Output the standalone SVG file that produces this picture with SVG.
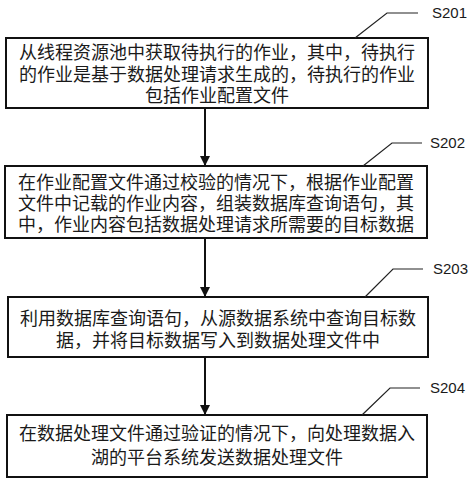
<svg xmlns="http://www.w3.org/2000/svg" width="474" height="483" viewBox="0 0 474 483">
<defs>
<style>
.box{fill:#fff;stroke:#111;stroke-width:2}
.t{font-family:"Noto Sans CJK SC","Noto Sans",sans-serif;font-size:18px;fill:#1a1a1a;text-anchor:middle}
.lab{font-family:"Liberation Sans",Arial,sans-serif;font-size:15px;fill:#1a1a1a}
.lead{fill:none;stroke:#222;stroke-width:1.2}
.conn{stroke:#111;stroke-width:2;fill:none}
</style>
<marker id="ah" viewBox="0 0 10 10" refX="10" refY="5" markerWidth="10" markerHeight="18" markerUnits="userSpaceOnUse" orient="auto">
<path d="M0,0 L10,5 L0,10 Z" fill="#111"/>
</marker>
</defs>
<rect width="474" height="483" fill="#fff"/>
<g id="connectors">
<line class="conn" x1="205" y1="108" x2="205" y2="166" marker-end="url(#ah)"/>
<line class="conn" x1="205" y1="238" x2="205" y2="297" marker-end="url(#ah)"/>
<line class="conn" x1="205" y1="357" x2="205" y2="415" marker-end="url(#ah)"/>
</g>
<g id="s201">
<rect class="box" x="6" y="38" width="422" height="70"/>
<text class="t" x="217" y="59">从线程资源池中获取待执行的作业，其中，待执行</text>
<text class="t" x="217" y="81">的作业是基于数据处理请求生成的，待执行的作业</text>
<text class="t" x="217" y="102">包括作业配置文件</text>
<polyline class="lead" points="355,38 387,13 418,13"/>
<text class="lab" x="432" y="18">S201</text>
</g>
<g id="s202">
<rect class="box" x="5" y="166" width="422" height="72"/>
<text class="t" x="216" y="189">在作业配置文件通过校验的情况下，根据作业配置</text>
<text class="t" x="216" y="210">文件中记载的作业内容，组装数据库查询语句，其</text>
<text class="t" x="216" y="231">中，作业内容包括数据处理请求所需要的目标数据</text>
<polyline class="lead" points="363,166 392,143 422,143"/>
<text class="lab" x="430" y="148">S202</text>
</g>
<g id="s203">
<rect class="box" x="8" y="297" width="420" height="60"/>
<text class="t" x="218" y="325">利用数据库查询语句，从源数据系统中查询目标数</text>
<text class="t" x="218" y="347">据，并将目标数据写入到数据处理文件中</text>
<polyline class="lead" points="365,297 393,269 423,269"/>
<text class="lab" x="433" y="274">S203</text>
</g>
<g id="s204">
<rect class="box" x="7" y="415" width="420" height="62"/>
<text class="t" x="217" y="440">在数据处理文件通过验证的情况下，向处理数据入</text>
<text class="t" x="217" y="464">湖的平台系统发送数据处理文件</text>
<polyline class="lead" points="362,415 390,388 420,388"/>
<text class="lab" x="430" y="393">S204</text>
</g>
</svg>
